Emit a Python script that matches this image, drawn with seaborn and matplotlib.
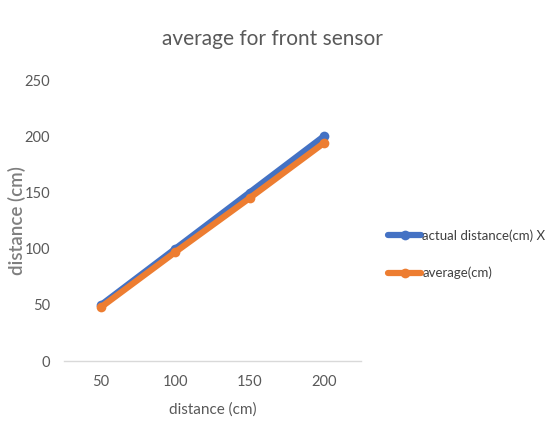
import matplotlib
matplotlib.use("Agg")
import matplotlib.pyplot as plt
import seaborn as sns
import pandas as pd

categories = ["50", "100", "150", "200"]
actual = [50, 100, 150, 200]
average = [48, 97, 145, 194]
series_names = ["actual distance(cm) X", "average(cm)"]

sns.set_theme(style="white")
plt.rcParams["font.family"] = ["Lato", "DejaVu Sans"]

rows = []
for name, vals in zip(series_names, [actual, average]):
    for i, (c, v) in enumerate(zip(categories, vals)):
        rows.append({"pos": i, "cat": c, "value": v, "series": name})
df = pd.DataFrame(rows)

fig = plt.figure(figsize=(5.56, 4.48), dpi=100)
ax = fig.add_axes([0.115, 0.194, 0.534, 0.627])
sns.lineplot(data=df, x="pos", y="value", hue="series",
             palette=["#4472C4", "#ED7D31"], marker="o", markersize=7,
             linewidth=4.5, markeredgewidth=0, ax=ax, legend=True)

ax.set_xlim(-0.5, 3.5)
ax.set_ylim(0, 250)
ax.set_xticks(range(len(categories)))
ax.set_xticklabels(categories)
ax.set_yticks([0, 50, 100, 150, 200, 250])
for s in ["top", "right", "left"]:
    ax.spines[s].set_visible(False)
ax.spines["bottom"].set_color("#D9D9D9")
ax.spines["bottom"].set_linewidth(1)
ax.tick_params(axis="both", length=0, labelsize=10.5, colors="#595959", pad=10)
ax.set_xlabel("distance (cm)", fontsize=11, color="#595959", labelpad=10)
ax.set_ylabel("distance (cm)", fontsize=13.5, color="#7F7F7F", fontweight="semibold")
ax.yaxis.set_label_coords(-0.128, 0.5)
fig.suptitle("average for front sensor", x=0.49, y=0.935, fontsize=15, color="#595959")

leg = ax.legend(loc="center left", bbox_to_anchor=(1.092, 0.38), frameon=False,
                fontsize=9.5, labelspacing=1.9, handlelength=2.5, handletextpad=0.1,
                borderaxespad=0, borderpad=0)
for t in leg.get_texts():
    t.set_color("#404040")

fig.savefig("out.png", dpi=100)
